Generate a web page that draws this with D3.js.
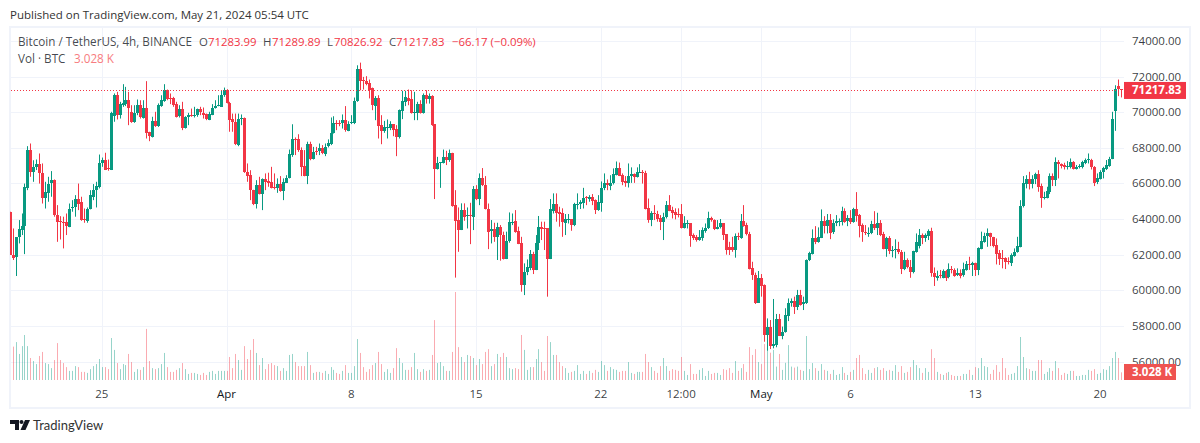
<!DOCTYPE html>
<html>
<head>
<meta charset="utf-8">
<script src="https://cdn.jsdelivr.net/npm/d3@7"></script>
<style>
  html, body { margin: 0; padding: 0; background: #fff; }
  svg { display: block; }
  text { font-family: "Open Sans", "Noto Sans", sans-serif; }
</style>
</head>
<body>
<svg id="chart" width="1200" height="443"></svg>
<script>
// BTCUSDT 4h bars, first one is the clipped Mar 19 20:00 candle
const opens = [64410,
  61980,61850,62970,63380,63570,65720,67870,66650,66930,67080,
  66560,65210,65470,65990,66180,64220,63880,63850,63810,63570,
  64590,64650,65120,64970,63980,63940,64560,65250,65620,65810,
  67170,67340,66840,66780,69790,70950,69830,70370,70450,70670,
  70020,69460,69920,70390,69680,70240,68860,68610,69490,69210,
  70340,70640,71270,70800,70770,70450,69740,70150,69120,69700,
  69830,69770,69790,70150,69960,69890,69590,69890,70260,70330,
  70330,70990,71270,70520,69590,69420,68200,69640,69680,66650,
  66460,65620,64840,65900,65400,66240,66120,66090,65810,65750,
  65960,65590,66050,66310,67590,68500,68470,67870,66970,66410,
  68190,67360,67810,67770,67960,67640,68050,68200,68840,69400,
  69400,69360,69550,68990,69360,69400,70630,72410,71790,71740,
  71610,71330,70350,70780,69270,68930,69100,69080,69320,69030,
  68580,70070,70580,70820,70730,69960,69960,70450,69960,70950,
  70730,70910,69320,66820,67160,67170,67490,67310,67720,64780,
  63940,63380,64500,64180,64220,64130,65680,65120,66300,65900,
  64590,63290,63420,62950,63530,63100,61750,62720,63810,63880,
  63320,62630,60290,61000,61250,62030,61130,62630,63560,63470,
  63470,61750,64500,64870,64410,64310,63790,63960,63980,63660,
  64820,64840,64880,65210,65140,65230,65060,64500,64910,65700,
  66000,65870,66000,66480,66860,66460,66130,66030,66410,66520,
  66370,66600,66630,66580,64600,63940,64310,64300,64030,63830,
  64090,64780,64500,64390,64280,64280,63490,63740,63770,63100,
  62970,62820,62950,63340,63470,64030,63940,63450,63510,63750,
  63140,62410,62410,62260,63060,62930,63890,63660,63150,61230,
  60860,59300,60700,60290,57490,57940,56870,56930,58390,57450,
  57640,58570,59270,59400,59080,59730,59210,59270,61660,62030,
  62930,62710,62930,63890,63600,63940,63230,63750,63850,63850,
  64450,63850,64030,63830,64560,64200,63640,63270,63170,63190,
  63720,63470,63750,63150,62330,62950,62200,62220,62300,62160,
  61190,61700,61320,61000,62160,62450,63080,62910,63060,63320,
  60950,60700,60840,60700,61080,60700,61170,61140,60820,60950,
  60820,61140,61470,61430,61550,61140,62330,62720,63000,63190,
  63000,62520,62070,61790,61790,61620,61550,61940,62120,62430,
  64690,65960,66220,65960,66220,66520,65850,65170,65210,65530,
  66410,66180,67180,67080,67010,66910,66890,67190,66840,66910,
  66930,67160,67320,67340,66930,66030,66260,66620,66800,66970,
  67380,70070,71460,71283.99];

const highs = [64410,
  63470,62990,63940,64310,65990,68090,68240,67300,67340,67680,
  67120,66090,66370,66690,66220,64780,64160,64130,64310,64870,
  65060,65340,65990,65250,64590,64650,65620,65960,66090,67620,
  67450,67720,67340,70020,71050,71140,70580,71570,71420,71140,
  70390,70390,70710,70670,70670,71740,68900,69740,70020,70490,
  70950,71570,71270,71050,70860,70580,70390,70580,69770,69960,
  70200,70300,70200,70300,70260,69920,70020,70450,70670,70950,
  71230,71380,71290,70580,69920,69920,69920,69870,69700,67120,
  66740,65640,66180,66370,66280,66560,66600,66930,66560,66280,
  66410,66280,66460,67900,69320,68580,68760,68020,67870,68340,
  68340,68050,68050,68240,68150,68240,68470,69700,69770,69550,
  69550,69870,70340,69490,69830,70820,72630,72780,71980,72020,
  71830,71380,70900,70950,69830,69510,69590,69490,69320,69270,
  70150,71200,71200,71270,71230,71140,70580,70670,71050,71230,
  71050,70950,69330,67490,67200,67900,67830,67900,67720,65620,
  64650,64880,64880,64650,64910,65850,65900,66560,66860,66410,
  64870,63940,63790,63790,63660,63290,63290,64370,64310,64500,
  63570,63000,61510,61730,62260,62160,63100,64170,63850,63850,
  63480,65120,65440,65440,64690,64600,64280,64280,63990,64910,
  65440,65060,65750,65290,65340,65400,65100,65340,66110,66560,
  66220,66460,66840,67230,67170,66560,66410,67120,66900,66560,
  66900,67080,66750,66710,65150,64440,64780,64460,64220,64350,
  65010,65340,64690,64600,64600,64840,64160,63940,63770,63190,
  63100,63380,63530,63750,64410,64130,63980,63940,64000,63750,
  63140,62720,63000,63190,63230,64280,64780,63790,63280,61600,
  60990,61080,60910,60330,58420,58330,59510,58670,58670,57960,
  58990,59540,59540,59640,60020,60020,59640,61730,62160,63420,
  63600,63530,64540,64160,64280,64280,63980,64220,64030,64690,
  64600,64220,64500,64630,65510,64280,63750,63660,63530,63900,
  64440,64350,63940,63280,63000,63040,62480,62860,62720,62260,
  62160,61790,61700,62220,63190,63440,63190,63190,63420,63510,
  61280,61100,61140,61170,61140,61510,61360,61230,61230,61170,
  61550,61640,61880,61600,61550,62410,63290,63230,63470,63230,
  63000,62910,62260,62260,61850,61850,62070,62350,63000,65060,
  66410,66460,66650,66460,66600,66740,65990,65530,65810,66560,
  66560,67460,67310,67120,67160,67250,67400,67250,67030,67080,
  67270,67400,67680,67380,66970,66560,66740,66930,67310,67490,
  70020,71510,71830,71289.89];

const lows = [61980,
  61700,60800,62630,63100,62030,65620,66370,66090,66750,65990,
  64870,64590,64970,65250,64130,62720,62850,62350,63100,63540,
  64410,64130,64500,63900,63790,63790,64540,65060,64650,65720,
  66930,66750,66710,66750,69460,69590,69640,70300,70340,69270,
  69400,69400,69830,69640,69640,68520,68370,68580,69170,69170,
  70300,70580,70670,70450,70300,69700,69700,68990,69080,69270,
  69740,69700,69740,69830,69640,69550,69550,69830,70200,70330,
  70330,70860,70490,68900,68900,68150,68090,69270,66590,66090,
  65060,64780,64590,65380,64500,65620,65810,65720,65660,65470,
  65530,65060,66020,66280,67490,67590,67770,66410,66400,65960,
  67300,67340,67590,67590,67640,67530,68020,68150,68800,68990,
  69210,69080,68900,68930,69330,69330,70580,71230,71270,71510,
  70770,70110,69550,68520,68200,68840,68520,68990,68650,67530,
  68520,69610,70340,70390,69920,69550,69550,69920,69920,70480,
  70480,69230,65120,66780,65750,67120,67030,67210,64690,60710,
  62160,63380,63900,63470,62590,63380,65060,64780,65850,64540,
  62310,62630,62720,61700,61660,61730,61750,62670,63660,63230,
  62590,59920,59730,60850,61130,60910,61130,62260,62820,62260,
  59640,61750,64310,63850,63570,63000,63100,63750,63340,63600,
  64540,64560,64590,64780,64970,64780,64280,64460,64410,65620,
  65620,65620,65940,66450,66410,65900,65810,65770,66030,66030,
  66330,66600,65990,64540,63790,63600,63940,63850,63380,62820,
  64030,64440,64030,63980,64090,63470,63470,63470,62440,62820,
  62730,62780,62780,63230,63440,63850,63380,63420,63470,62820,
  62000,61980,62160,61830,62820,62890,63570,63080,61170,60580,
  59230,59300,59640,57110,56610,56700,56740,56800,57430,57250,
  57620,58270,59080,58670,58890,59140,58890,59230,61640,62010,
  62590,62670,62930,63190,63190,62870,63160,63600,63600,63640,
  63790,63600,63720,63790,63850,62970,62720,63100,63000,63150,
  63380,63100,63040,62300,61880,62030,61850,61790,62030,60910,
  61130,61230,60700,60950,62110,62350,62590,62720,62820,60760,
  60240,60540,60670,60670,60520,60670,60950,60760,60800,60670,
  60760,61100,61140,60800,60800,60850,62300,62670,62440,62480,
  62410,61450,61420,61230,61190,61450,61360,61880,62110,62410,
  64650,65720,65660,65720,65960,65530,64630,65100,65160,65400,
  65850,65850,66280,66840,66780,66780,66840,66780,66780,66840,
  66840,67080,67120,66780,65850,65960,66220,66280,66750,66930,
  67360,68950,70900,70826.92];

const closes = [61980,
  61790,62970,63440,63600,65770,67870,66650,66930,67080,66560,
  65150,65530,65990,66180,64220,63850,63810,63810,63570,64590,
  64650,65120,64840,63940,63940,64590,65340,65620,65850,67170,
  67340,66800,66760,69980,70950,69830,70430,70490,70670,70200,
  69460,69980,70390,69700,70240,68840,68610,69490,69210,70390,
  70670,71270,70770,70750,70390,69740,70150,69080,69740,69830,
  69770,69830,70150,69960,69830,69590,69920,70260,70370,70390,
  70990,71270,70520,69550,69400,68200,69640,69680,66650,66430,
  65590,64840,65900,65400,66240,66090,66030,65770,65770,65960,
  65590,66090,66330,67640,68470,68450,67830,66930,66410,68190,
  67340,67770,67750,67960,67680,68050,68240,68840,69400,69330,
  69330,69550,68990,69360,69420,70630,72410,71760,71760,71550,
  71230,70350,70780,69210,68930,69140,69140,69320,68990,68580,
  70110,70620,70860,70670,69960,70000,70450,69960,70950,70730,
  70910,69270,66820,67160,67200,67490,67310,67720,64740,63900,
  63380,64500,64130,64220,64180,65680,65120,66300,65890,64560,
  63290,63420,62950,63530,63060,61750,62760,63810,63850,63290,
  62610,60290,61040,61280,62030,61130,62630,63530,63430,63430,
  61750,64560,64870,64370,64310,63790,63990,63990,63660,64840,
  64870,64970,65180,65140,65250,65030,64500,64930,65740,66000,
  65870,66040,66520,66860,66430,66090,66030,66410,66520,66370,
  66630,66630,66560,64580,63940,64310,64280,64000,63830,64130,
  64780,64460,64350,64240,64240,63490,63750,63770,63040,62910,
  62820,62970,63380,63510,64030,63920,63440,63550,63750,63100,
  62240,62240,62240,63040,63000,63890,63620,63140,61190,60840,
  59270,60700,60270,57490,57940,56870,56980,58390,57450,57680,
  58610,59280,59400,59080,59730,59170,59320,61700,62070,62930,
  62730,62970,63890,63600,63940,63230,63750,63890,63890,64450,
  63850,64030,63830,64560,64170,63600,63230,63190,63230,63720,
  63470,63750,63100,62330,62950,62220,62260,62300,62110,61190,
  61700,61290,61040,62200,62730,63080,62910,63100,63320,60950,
  60720,60820,60800,61080,60700,61170,61120,60820,60950,60800,
  61170,61450,61430,61550,61140,62370,62760,63040,63190,62970,
  62480,62030,61750,61730,61580,61560,61980,62160,62460,64720,
  66000,66220,65960,66220,66520,65810,65170,65250,65590,66410,
  66180,67180,67040,66970,66890,66970,67190,66820,66930,66970,
  67190,67340,67360,66930,66030,66280,66650,66840,67010,67380,
  69640,71320,71290,71217.83];

// volume in thousands of BTC
const volumes = [0,
  13.2,15.0,10.3,13.4,17.8,13.4,8.7,7.5,6.3,9.5,
  11.1,6.7,6.3,4.7,7.9,14.6,7.9,6.7,5.1,3.6,
  3.6,5.5,5.1,3.2,3.2,2.8,4.3,5.5,6.3,8.3,
  5.1,5.1,4.3,16.6,11.9,6.7,4.3,6.3,5.9,10.3,
  7.1,3.2,4.3,4.0,5.1,20.2,7.5,4.7,4.3,4.7,
  6.3,10.7,5.1,3.2,3.2,4.0,4.7,6.7,4.3,2.4,
  2.8,2.8,2.4,2.0,2.8,2.0,3.2,3.6,2.4,3.6,
  3.6,3.6,3.6,9.1,4.7,10.3,7.9,4.0,13.4,8.3,
  11.9,16.2,10.7,5.9,8.7,4.3,6.3,6.7,5.9,5.5,
  3.6,4.7,3.6,9.9,10.3,7.1,5.5,5.5,5.5,11.1,
  5.9,2.8,3.2,3.2,2.8,3.6,2.4,5.1,4.0,2.8,
  2.4,3.6,5.9,2.8,2.8,5.5,16.2,10.7,5.1,3.2,
  4.3,5.9,6.7,11.1,6.3,3.2,4.3,2.8,4.7,12.6,
  8.7,6.7,4.0,4.0,5.1,10.7,4.3,3.2,4.3,3.6,
  4.0,9.9,23.7,6.7,7.1,5.5,3.6,3.6,11.1,34.8,
  13.0,9.1,7.1,9.9,9.5,8.7,5.9,8.3,6.3,11.1,
  12.2,5.5,6.3,10.3,9.1,10.7,9.1,4.7,4.3,4.7,
  4.3,17.8,11.9,4.0,5.1,5.1,8.3,12.2,7.1,3.6,
  17.4,15.0,9.9,9.9,7.1,5.5,4.7,2.8,3.2,3.6,
  5.9,2.4,3.6,2.4,3.6,2.8,4.0,3.2,7.5,5.9,
  3.6,5.1,4.3,4.0,3.2,3.6,3.6,7.1,2.8,2.4,
  3.2,3.2,3.2,10.3,7.1,5.1,3.6,2.8,5.5,8.7,
  5.5,3.6,4.3,4.0,3.6,9.1,3.6,2.0,6.3,2.4,
  2.4,4.0,4.7,1.6,3.6,2.4,2.8,2.8,2.0,4.3,
  4.0,4.7,2.8,7.5,3.6,4.7,6.3,3.2,13.0,9.9,
  12.2,7.1,6.3,14.2,12.5,10.8,11.9,5.3,10.3,4.0,
  6.8,13.8,5.3,4.9,5.3,4.0,3.6,17.4,4.3,6.7,
  4.7,3.6,6.3,4.0,3.6,2.4,4.0,2.0,2.4,5.1,
  2.8,2.0,3.2,4.0,8.7,9.9,4.7,2.4,4.0,2.8,
  4.7,5.1,4.0,4.7,3.6,4.0,3.6,5.9,3.2,5.5,
  2.8,3.2,5.1,7.9,5.9,4.7,2.8,4.7,3.2,12.2,
  8.7,3.2,2.4,2.0,2.8,3.2,2.0,1.6,1.6,1.6,
  2.4,2.4,4.0,2.0,5.1,4.7,8.7,5.5,5.1,2.4,
  4.0,5.9,3.2,8.7,4.7,2.0,2.4,2.8,5.5,17.0,
  9.1,4.7,4.3,3.6,3.6,7.9,7.9,2.4,3.2,4.7,
  3.6,7.5,4.7,2.0,2.8,2.4,3.6,3.6,1.6,1.6,
  2.0,2.0,4.0,3.6,4.3,2.4,2.8,4.3,4.0,5.5,
  8.7,11.1,8.7,3.028];

const priceTicks = [74000,72000,70000,68000,66000,64000,62000,60000,58000,56000];
// position in the bar arrays of each labelled date
const dateTickBars = [31,73,115,157,199,226,253,283,325,367];
const dateTickLabels = ["25","Apr","8","15","22","12:00","May","6","13","20"];
const monthLabels = ["Apr","May"];

const lastPrice = 71217.83;
const lastVolume = 3.028;
const legendParts = [
  ["Bitcoin / TetherUS, 4h, BINANCE", "label", 18],
  ["O", "label", 199], ["71283.99", "value", 208],
  ["H", "label", 263], ["71289.89", "value", 272],
  ["L", "label", 327], ["70826.92", "value", 334],
  ["C", "label", 389], ["71217.83", "value", 396],
  ["\u221266.17 (\u22120.09%)", "value", 452]
];

const green = "#089981";
const red = "#f23645";
const gridColor = "#f0f3fa";
const textColor = "#131722";
const plot = { left: 11, right: 1124, top: 28, bottom: 380 };

const svg = d3.select("#chart");
const bars = opens.map((o, i) => ({ o, h: highs[i], l: lows[i], c: closes[i], v: volumes[i], i }));

const x = d3.scaleLinear().domain([1, 374]).range([12.6, 1120.8]);
const y = d3.scaleLinear().domain([56000, 74000]).range([361.5, 40.9]);
const yVol = d3.scaleLinear().domain([0, 34.8]).range([380, 292]);

svg.append("defs").append("clipPath").attr("id", "plot-clip")
  .append("rect")
  .attr("x", plot.left - 1).attr("y", plot.top)
  .attr("width", plot.right - plot.left + 1).attr("height", plot.bottom - plot.top);

svg.append("text").attr("x", 10).attr("y", 19)
  .attr("font-size", 11.5).attr("fill", "#333")
  .text("Published on TradingView.com, May 21, 2024 05:54 UTC");

// frame
svg.append("rect")
  .attr("x", 10).attr("y", 27).attr("width", 1180).attr("height", 381)
  .attr("fill", "none").attr("stroke", gridColor).attr("stroke-width", 2);

// grid
svg.append("g").selectAll("line").data(priceTicks).join("line")
  .attr("x1", plot.left).attr("x2", plot.right)
  .attr("y1", d => Math.round(y(d)) + 0.5).attr("y2", d => Math.round(y(d)) + 0.5)
  .attr("stroke", gridColor);
svg.append("g").selectAll("line").data(dateTickBars).join("line")
  .attr("x1", d => Math.round(x(d)) + 0.5).attr("x2", d => Math.round(x(d)) + 0.5)
  .attr("y1", plot.top).attr("y2", plot.bottom)
  .attr("stroke", gridColor);

const chart = svg.append("g").attr("clip-path", "url(#plot-clip)");

// volume
chart.append("g").selectAll("rect").data(bars).join("rect")
  .attr("x", d => Math.round(x(d.i)))
  .attr("width", 1)
  .attr("y", d => yVol(d.v))
  .attr("height", d => yVol(0) - yVol(d.v))
  .attr("fill", d => d.c >= d.o ? green : red)
  .attr("opacity", 0.42);

// candles
const candle = chart.append("g").selectAll("g").data(bars).join("g")
  .attr("fill", d => d.c >= d.o ? green : red);
candle.append("rect")
  .attr("x", d => Math.round(x(d.i)))
  .attr("width", 1)
  .attr("y", d => y(d.h))
  .attr("height", d => y(d.l) - y(d.h));
candle.append("rect")
  .attr("x", d => Math.round(x(d.i)) - 1)
  .attr("width", 3)
  .attr("y", d => Math.round(y(Math.max(d.o, d.c))))
  .attr("height", d => Math.max(1, Math.round(Math.abs(y(d.o) - y(d.c)))));

// last price line
svg.append("line")
  .attr("x1", plot.left).attr("x2", plot.right)
  .attr("y1", Math.round(y(lastPrice)) + 0.5).attr("y2", Math.round(y(lastPrice)) + 0.5)
  .attr("stroke", red).attr("stroke-dasharray", "1 2");

// legend
svg.append("g").selectAll("text").data(legendParts).join("text")
  .attr("x", d => d[2]).attr("y", 46)
  .attr("font-size", d => d[0].length > 20 ? 11.7 : 11.4)
  .attr("fill", d => d[1] === "value" ? red : textColor)
  .attr("fill-opacity", d => d[1] === "value" ? 1 : 0.8)
  .text(d => d[0]);
svg.append("text").attr("x", 18).attr("y", 63).attr("font-size", 11.7)
  .attr("fill", textColor).attr("fill-opacity", 0.8).text("Vol \u00b7 BTC");
svg.append("text").attr("x", 74).attr("y", 63).attr("font-size", 11.7)
  .attr("fill", "#f77c80").text(d3.format(".3f")(lastVolume) + " K");

// price axis
svg.append("g").selectAll("text").data(priceTicks).join("text")
  .attr("x", 1132).attr("y", d => y(d) + 4)
  .attr("font-size", 11.5).attr("fill", textColor).attr("fill-opacity", 0.85)
  .text(d => d3.format(".2f")(d));

// date axis
svg.append("g").selectAll("text").data(dateTickBars).join("text")
  .attr("x", d => x(d)).attr("y", 398)
  .attr("text-anchor", "middle").attr("font-size", 11.5)
  .attr("fill", textColor)
  .attr("fill-opacity", (d, i) => monthLabels.includes(dateTickLabels[i]) ? 1 : 0.85)
  .text((d, i) => dateTickLabels[i]);

// last price and volume tags
svg.append("rect").attr("x", plot.right).attr("y", y(lastPrice) - 8.5)
  .attr("width", 62).attr("height", 17).attr("fill", red);
svg.append("text").attr("x", 1132).attr("y", y(lastPrice) + 4)
  .attr("font-size", 11.5).attr("font-weight", 700).attr("fill", "#fff")
  .text(d3.format(".2f")(lastPrice));
svg.append("rect").attr("x", plot.right).attr("y", 364)
  .attr("width", 52).attr("height", 16).attr("fill", "#ef5350");
svg.append("text").attr("x", 1132).attr("y", 376)
  .attr("font-size", 11.5).attr("font-weight", 700).attr("fill", "#fff")
  .text(d3.format(".3f")(lastVolume) + " K");

// footer logo
const logo = svg.append("g").attr("fill", "#131722");
logo.append("path").attr("d", "M10 420h9v10h-4v-6h-5z");
logo.append("circle").attr("cx", 21.5).attr("cy", 422).attr("r", 2);
logo.append("path").attr("d", "M25 420h5l-4.5 10h-5z");
svg.append("text").attr("x", 33).attr("y", 430)
  .attr("font-size", 13).attr("fill", "#333")
  .style("font-family", "Lato, sans-serif").text("TradingView");
</script>
</body>
</html>
